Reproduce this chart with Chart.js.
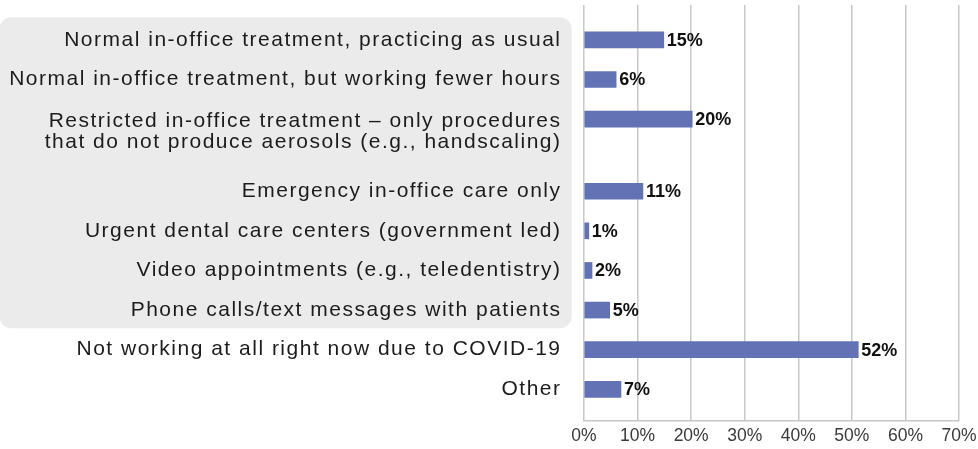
<!DOCTYPE html>
<html>
<head>
<meta charset="utf-8">
<script src="https://cdn.jsdelivr.net/npm/chart.js@4.4.1/dist/chart.umd.min.js"></script>
<style>
  html, body { margin: 0; padding: 0; background: #ffffff; }
  #wrap { width: 978px; height: 449px; position: relative; }
</style>
</head>
<body>
<div id="wrap"><canvas id="c"></canvas></div>
<script>
// ---- data ----
const categories = [
  'Normal in-office treatment, practicing as usual',
  'Normal in-office treatment, but working fewer hours',
  ['Restricted in-office treatment \u2013 only procedures', 'that do not produce aerosols (e.g., handscaling)'],
  'Emergency in-office care only',
  'Urgent dental care centers (government led)',
  'Video appointments (e.g., teledentistry)',
  'Phone calls/text messages with patients',
  'Not working at all right now due to COVID-19',
  'Other'
];
const values = [14.9, 6.0, 20.2, 11.0, 0.9, 1.5, 4.8, 51.2, 6.9];
const valueLabels = ['15%', '6%', '20%', '11%', '1%', '2%', '5%', '52%', '7%'];
const xTickValues = [0, 10, 20, 30, 40, 50, 60, 70];
const highlightedCount = 7; // first seven categories sit on the grey panel

// ---- row layout derived from label line counts ----
const lineCounts = categories.map(c => Array.isArray(c) ? c.length : 1);
const barPos = [];
lineCounts.forEach((n, i) => {
  barPos.push(i === 0 ? 0 : barPos[i - 1] + 1 + (lineCounts[i - 1] - 1) * 0.82);
});
const labelPos = barPos.map((p, i) => p + (lineCounts[i] - 1) * 0.32);

const FONT = '"Liberation Sans", Arial, Helvetica, sans-serif';

const greyPanel = {
  id: 'greyPanel',
  beforeDraw(chart) {
    const { ctx, chartArea, scales: { y } } = chart;
    const top = y.getPixelForValue(barPos[0]) - 22.7;
    const bottom = y.getPixelForValue(barPos[highlightedCount - 1]) + 18.3;
    const right = chartArea.left - 12.3;
    ctx.save();
    ctx.fillStyle = '#ebebeb';
    ctx.beginPath();
    ctx.roundRect(-0.5, top, right + 0.5, bottom - top, 12);
    ctx.fill();
    ctx.restore();
  }
};

const trackedLabels = {
  id: 'trackedLabels',
  beforeDraw(chart) {
    const s = chart.scales.y;
    if (s._tracked) return;
    const orig = s.drawLabels;
    s.drawLabels = function (a) {
      const ctx = this.ctx;
      const prev = ctx.letterSpacing;
      ctx.letterSpacing = '1.5px';
      orig.call(this, a);
      ctx.letterSpacing = prev || '0px';
    };
    s._tracked = true;
  }
};

const valueTags = {
  id: 'valueTags',
  afterDatasetsDraw(chart) {
    const ctx = chart.ctx;
    const meta = chart.getDatasetMeta(0);
    ctx.save();
    ctx.font = 'bold 18px ' + FONT;
    ctx.fillStyle = '#111111';
    ctx.textBaseline = 'middle';
    ctx.textAlign = 'left';
    meta.data.forEach((bar, i) => {
      ctx.fillText(valueLabels[i], bar.x + 3, bar.y + 1);
    });
    ctx.restore();
  }
};

new Chart(document.getElementById('c'), {
  type: 'bar',
  data: {
    datasets: [{
      data: values.map((v, i) => ({ x: v, y: barPos[i] })),
      backgroundColor: '#6272b4',
      borderWidth: 0,
      barThickness: 16
    }]
  },
  options: {
    indexAxis: 'y',
    responsive: true,
    maintainAspectRatio: false,
    animation: false,
    devicePixelRatio: 1,
    layout: { padding: { top: 5, right: 19, bottom: 1, left: 0 } },
    plugins: { legend: { display: false }, tooltip: { enabled: false } },
    scales: {
      x: {
        type: 'linear',
        position: 'bottom',
        min: 0,
        max: 70,
        afterBuildTicks: s => { s.ticks = xTickValues.map(v => ({ value: v })); },
        afterFit: s => { s.paddingLeft = 0; s.paddingRight = 0; s.height = 27; },
        grid: { color: '#c8c8c8', lineWidth: 1.5, drawTicks: false },
        border: { display: true, color: '#c8c8c8', width: 1.5 },
        ticks: {
          padding: 5,
          color: '#3a3a3a',
          autoSkip: false,
          maxRotation: 0,
          font: { family: FONT, size: 17.5 },
          callback: v => v + '%'
        }
      },
      y: {
        type: 'linear',
        reverse: true,
        offset: false,
        min: -0.88,
        max: barPos[barPos.length - 1] + 0.8,
        afterBuildTicks: s => { s.ticks = labelPos.map(v => ({ value: v })); },
        afterFit: s => { s.width = 584; s.paddingTop = 0; s.paddingBottom = 0; },
        grid: { display: false, drawTicks: false, offset: false },
        border: { display: false },
        ticks: {
          padding: 22.5,
          color: '#1c1c1c',
          autoSkip: false,
          font: { family: FONT, size: 21, lineHeight: 1.0 },
          callback: (v, i) => categories[i]
        }
      }
    }
  },
  plugins: [greyPanel, trackedLabels, valueTags]
});
</script>
</body>
</html>
